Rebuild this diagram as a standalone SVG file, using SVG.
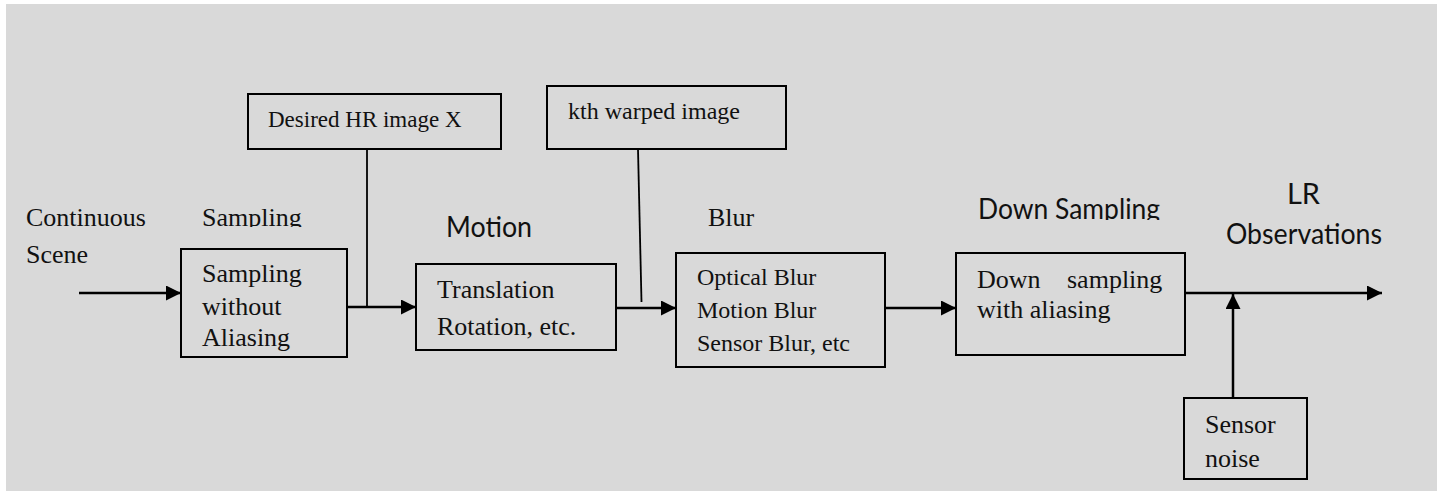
<svg xmlns="http://www.w3.org/2000/svg" width="1445" height="491" viewBox="0 0 1445 491">
  <style>
    .box { fill: none; stroke: #000; stroke-width: 2; }
    .serif { font-family: "Liberation Serif", "Times New Roman", serif; fill: #111; }
    .sans { font-family: Lato, "Open Sans", "Liberation Sans", sans-serif; fill: #111; font-size: 28px; }
    .conn { stroke: #000; stroke-width: 2.5; fill: none; }
    .thin { stroke: #000; stroke-width: 1.8; fill: none; }
  </style>
  <defs>
    <marker id="arrow" markerUnits="userSpaceOnUse" markerWidth="16" markerHeight="16" refX="15" refY="7.5" orient="auto">
      <path d="M0,0 L15,7.5 L0,15 Z" fill="#000"/>
    </marker>
    <clipPath id="clipSampling"><rect x="190" y="190" width="130" height="37"/></clipPath>
    <clipPath id="clipDown"><rect x="960" y="180" width="220" height="40"/></clipPath>
  </defs>
  <rect x="6" y="4" width="1431" height="487" fill="#d9d9d9"/>

  <g id="labels">
    <text class="serif" font-size="26" x="26" y="226">Continuous</text>
    <text class="serif" font-size="26" x="26" y="263">Scene</text>
    <text class="serif" font-size="26" x="202" y="226" clip-path="url(#clipSampling)">Sampling</text>
    <text class="sans" x="446" y="237" textLength="86" lengthAdjust="spacingAndGlyphs">Motion</text>
    <text class="serif" font-size="26" x="708" y="226">Blur</text>
    <text class="sans" x="978" y="219" textLength="182" lengthAdjust="spacingAndGlyphs" clip-path="url(#clipDown)">Down Sampling</text>
    <text class="sans" x="1287" y="204" textLength="33" lengthAdjust="spacingAndGlyphs">LR</text>
    <text class="sans" x="1226" y="244" textLength="156" lengthAdjust="spacingAndGlyphs">Observations</text>
  </g>

  <g id="node-hr">
    <rect class="box" x="248" y="94" width="253" height="55"/>
    <text class="serif" font-size="23" x="268" y="127">Desired HR image X</text>
  </g>
  <g id="node-kth">
    <rect class="box" x="547" y="86" width="239" height="63"/>
    <text class="serif" font-size="24" x="568" y="119">kth warped image</text>
  </g>
  <g id="node-sampling">
    <rect class="box" x="181" y="249" width="166" height="108"/>
    <text class="serif" font-size="26" x="202" y="282">Sampling</text>
    <text class="serif" font-size="26" x="202" y="315">without</text>
    <text class="serif" font-size="26" x="202" y="346">Aliasing</text>
  </g>
  <g id="node-motion">
    <rect class="box" x="416" y="264" width="200" height="86"/>
    <text class="serif" font-size="26" x="437" y="298">Translation</text>
    <text class="serif" font-size="26" x="437" y="335">Rotation, etc.</text>
  </g>
  <g id="node-blur">
    <rect class="box" x="676" y="253" width="209" height="114"/>
    <text class="serif" font-size="24" x="697" y="285">Optical Blur</text>
    <text class="serif" font-size="24" x="697" y="318">Motion Blur</text>
    <text class="serif" font-size="24" x="697" y="351">Sensor Blur, etc</text>
  </g>
  <g id="node-down">
    <rect class="box" x="956" y="253" width="229" height="102"/>
    <text class="serif" font-size="26" x="977" y="288">Down</text>
    <text class="serif" font-size="26" x="1067" y="288">sampling</text>
    <text class="serif" font-size="26" x="977" y="318">with aliasing</text>
  </g>
  <g id="node-noise">
    <rect class="box" x="1184" y="398" width="123" height="81"/>
    <text class="serif" font-size="26" x="1205" y="433">Sensor</text>
    <text class="serif" font-size="26" x="1205" y="467">noise</text>
  </g>

  <g id="connectors">
    <line class="conn" x1="79" y1="293" x2="181" y2="293" marker-end="url(#arrow)"/>
    <line class="conn" x1="347" y1="307" x2="416" y2="307" marker-end="url(#arrow)"/>
    <line class="thin" x1="367" y1="149" x2="367" y2="307"/>
    <line class="conn" x1="616" y1="308" x2="676" y2="308" marker-end="url(#arrow)"/>
    <line class="thin" x1="638" y1="149" x2="641.5" y2="302"/>
    <line class="conn" x1="885" y1="308" x2="956" y2="308" marker-end="url(#arrow)"/>
    <line class="conn" x1="1185" y1="293" x2="1382" y2="293" marker-end="url(#arrow)"/>
    <line class="conn" x1="1233" y1="398" x2="1233" y2="294" marker-end="url(#arrow)"/>
  </g>
</svg>
